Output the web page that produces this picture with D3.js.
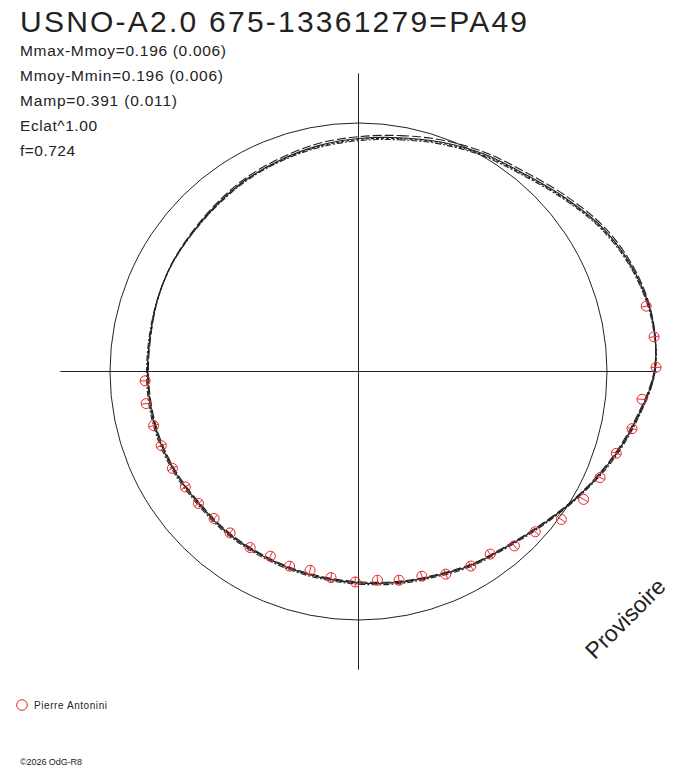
<!DOCTYPE html>
<html>
<head>
<meta charset="utf-8">
<script src="https://cdn.jsdelivr.net/npm/d3@7/dist/d3.min.js"></script>
<style>
  html, body { margin: 0; padding: 0; background: #fff; }
  svg { display: block; }
  text { font-family: "Liberation Sans", Arial, sans-serif; fill: #222; }
</style>
</head>
<body>
<svg id="chart" width="688" height="768"></svg>
<script>
// ---------------- DATA ----------------
const title = "USNO-A2.0 675-13361279=PA49";
const statLines = [
  "Mmax-Mmoy=0.196 (0.006)",
  "Mmoy-Mmin=0.196 (0.006)",
  "Mamp=0.391 (0.011)",
  "Eclat^1.00",
  "f=0.724"
];
const observer = "Pierre Antonini";
const copyright = "\u00A92026 OdG-R8";
const watermark = "Provisoire";

// fitted curves: phase angle (degrees) and magnitude offset from mean (mag)
const fitPhase = [0,10,20,30,40,50,60,70,80,90,100,110,120,130,140,150,160,170,
                  180,190,200,210,220,230,240,250,260,270,280,290,300,310,320,330,340,350];
const fitA = [0.066,0.047,0.019,-0.011,-0.040,-0.091,-0.150,-0.191,-0.212,-0.201,-0.140,-0.078,-0.015,0.040,0.081,0.104,0.129,0.144,
              0.157,0.165,0.169,0.172,0.172,0.174,0.167,0.161,0.159,0.159,0.157,0.148,0.140,0.136,0.125,0.110,0.097,0.081];
const fitB = [0.058,0.038,0.010,-0.019,-0.049,-0.100,-0.157,-0.196,-0.214,-0.199,-0.136,-0.074,-0.012,0.044,0.085,0.108,0.133,0.149,
              0.162,0.170,0.174,0.177,0.177,0.179,0.172,0.166,0.164,0.163,0.160,0.149,0.139,0.133,0.120,0.104,0.090,0.072];
const fitC = [0.075,0.056,0.028,-0.002,-0.032,-0.083,-0.142,-0.185,-0.208,-0.203,-0.145,-0.084,-0.019,0.036,0.077,0.099,0.124,0.139,
              0.152,0.160,0.164,0.167,0.167,0.169,0.162,0.156,0.154,0.155,0.154,0.147,0.141,0.138,0.129,0.115,0.103,0.089];
const fitD = [0.070,0.051,0.023,-0.006,-0.036,-0.087,-0.146,-0.188,-0.210,-0.204,-0.143,-0.080,-0.016,0.041,0.082,0.105,0.130,0.146,
              0.159,0.167,0.171,0.174,0.174,0.176,0.169,0.163,0.161,0.160,0.158,0.149,0.141,0.137,0.127,0.112,0.100,0.085];

// observations (Pierre Antonini): phase angle (degrees) and magnitude offset (mag)
const obsPhase = [267.5,261.4,255.2,249.4,242.5,236.3,230.5,224.5,218.5,211.6,205.5,199.5,193.7,187.6,180.9,
                  174.8,169.0,162.8,156.7,150.0,144.2,138.2,132.2,126.1,119.6,113.7,107.6,101.8,95.6,89.2,83.3,77.2];
const obsMag = [0.148,0.143,0.155,0.160,0.164,0.171,0.174,0.180,0.179,0.177,0.186,0.178,0.186,0.172,0.161,
                0.165,0.152,0.145,0.118,0.101,0.099,0.062,0.042,-0.011,-0.044,-0.065,-0.093,-0.131,-0.154,-0.208,-0.208,-0.197];

// ---------------- DRAW ----------------
const svg = d3.select("#chart");
const cx = 358.5, cy = 371.5;
const R0 = 248.5;              // radius of mean-magnitude circle
// magnitude offset -> radius (fainter = inward)
const rScale = d3.scaleLinear().domain([0, 0.2]).range([R0, R0 - 0.2 * 236]);
const aScale = d3.scaleLinear().domain([0, 360]).range([0, 2 * Math.PI]);

const g = svg.append("g").attr("transform", `translate(${cx},${cy})`);

// axes
const axLen = R0 * 1.2;
g.append("line").attr("x1", -axLen).attr("x2", axLen).attr("y1", 0).attr("y2", 0)
  .attr("stroke", "#222").attr("stroke-width", 1);
g.append("line").attr("x1", 0).attr("x2", 0).attr("y1", -axLen).attr("y2", axLen)
  .attr("stroke", "#222").attr("stroke-width", 1);

// mean circle
g.append("circle").attr("r", rScale(0)).attr("fill", "none")
  .attr("stroke", "#222").attr("stroke-width", 1);

// fitted curves
const radial = d3.lineRadial()
  .angle(d => aScale(d[0]))
  .radius(d => rScale(d[1]))
  .curve(d3.curveCatmullRomClosed.alpha(0.5));

const fits = [
  { v: fitA, dash: null },
  { v: fitB, dash: "9,3" },
  { v: fitC, dash: "6,2,2,2" },
  { v: fitD, dash: "3,2" }
];
fits.forEach(f => {
  g.append("path")
    .datum(fitPhase.map((p, i) => [p, f.v[i]]))
    .attr("d", radial)
    .attr("fill", "none")
    .attr("stroke", "#222")
    .attr("stroke-width", 1.1)
    .attr("stroke-dasharray", f.dash);
});

// observations
const red = "#e8262a";
const mr = 5;
const obs = obsPhase.map((p, i) => ({ a: aScale(p), r: rScale(obsMag[i]) }));
const og = g.append("g");
obs.forEach(d => {
  const [x, y] = d3.pointRadial(d.a, d.r);
  const [x1, y1] = d3.pointRadial(d.a, d.r - mr);
  const [x2, y2] = d3.pointRadial(d.a, d.r + mr);
  og.append("circle").attr("cx", x).attr("cy", y).attr("r", mr)
    .attr("fill", "none").attr("stroke", red).attr("stroke-width", 1);
  og.append("line").attr("x1", x1).attr("y1", y1).attr("x2", x2).attr("y2", y2)
    .attr("stroke", red).attr("stroke-width", 1);
});

// texts
svg.append("text").attr("x", 20).attr("y", 32)
  .attr("font-size", 30).attr("textLength", 507).attr("lengthAdjust", "spacing")
  .text(title);

const statWidths = [206, 203, 157, 77, 55];
statLines.forEach((s, i) => {
  svg.append("text").attr("x", 20).attr("y", 56 + i * 25)
    .attr("font-size", 15.5)
    .attr("fill", "#333")
    .attr("textLength", statWidths[i]).attr("lengthAdjust", "spacing")
    .text(s);
});

// watermark
svg.append("text")
  .attr("transform", "translate(631,624) rotate(-45)")
  .attr("text-anchor", "middle")
  .attr("font-size", 23)
  .text(watermark);

// legend
svg.append("circle").attr("cx", 22).attr("cy", 705).attr("r", 5.3)
  .attr("fill", "none").attr("stroke", red).attr("stroke-width", 1);
svg.append("text").attr("x", 34).attr("y", 709)
  .attr("font-size", 10).attr("textLength", 73).attr("lengthAdjust", "spacing")
  .text(observer);

// copyright
svg.append("text").attr("x", 20).attr("y", 765)
  .attr("font-size", 9).attr("textLength", 62).attr("lengthAdjust", "spacing")
  .text(copyright);
</script>
</body>
</html>
